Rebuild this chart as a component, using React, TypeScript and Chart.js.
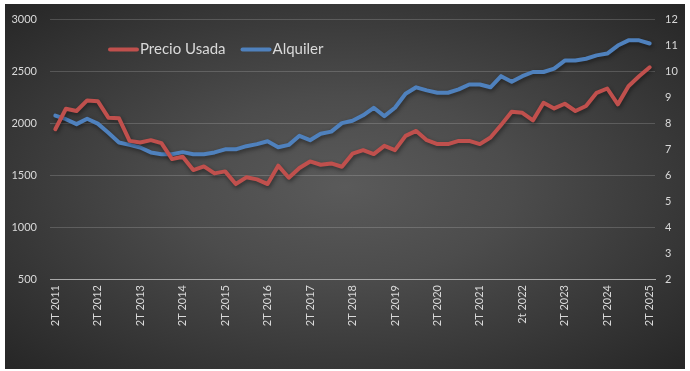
import React, { useEffect, useRef } from "react";
import { Chart, registerables } from "chart.js";

Chart.register(...registerables);

const quarters: string[] = [
  "2T 2011", "3T 2011", "4T 2011",
  "1T 2012", "2T 2012", "3T 2012", "4T 2012",
  "1T 2013", "2T 2013", "3T 2013", "4T 2013",
  "1T 2014", "2T 2014", "3T 2014", "4T 2014",
  "1T 2015", "2T 2015", "3T 2015", "4T 2015",
  "1T 2016", "2T 2016", "3T 2016", "4T 2016",
  "1T 2017", "2T 2017", "3T 2017", "4T 2017",
  "1T 2018", "2T 2018", "3T 2018", "4T 2018",
  "1T 2019", "2T 2019", "3T 2019", "4T 2019",
  "1T 2020", "2T 2020", "3T 2020", "4T 2020",
  "1T 2021", "2T 2021", "3T 2021", "4T 2021",
  "1T 2022", "2t 2022", "3T 2022", "4T 2022",
  "1T 2023", "2T 2023", "3T 2023", "4T 2023",
  "1T 2024", "2T 2024", "3T 2024", "4T 2024",
  "1T 2025", "2T 2025",
];

const precioUsada: number[] = [
  1943, 2141, 2119, 2221, 2214, 2055, 2049, 1831, 1815, 1838,
  1809, 1656, 1678, 1550, 1585, 1518, 1537, 1415, 1480, 1460,
  1415, 1592, 1476, 1570, 1633, 1601, 1614, 1582, 1708, 1742,
  1704, 1783, 1742, 1879, 1927, 1838, 1800, 1800, 1831, 1831,
  1800, 1863, 1985, 2112, 2102, 2029, 2198, 2144, 2189, 2119,
  2167, 2294, 2336, 2183, 2358, 2454, 2540,
];

const alquiler: number[] = [
  8.3, 8.16, 7.97, 8.18, 7.99, 7.64, 7.26, 7.17, 7.07, 6.88,
  6.81, 6.81, 6.89, 6.81, 6.81, 6.88, 7.0, 7.0, 7.12, 7.2,
  7.31, 7.08, 7.17, 7.52, 7.35, 7.6, 7.68, 8.01, 8.1, 8.31,
  8.6, 8.28, 8.6, 9.14, 9.39, 9.27, 9.18, 9.18, 9.31, 9.5,
  9.5, 9.39, 9.82, 9.6, 9.82, 9.98, 9.98, 10.11, 10.42, 10.42,
  10.49, 10.62, 10.69, 11.0, 11.2, 11.2, 11.08,
];

const seriesNames: string[] = ["Precio Usada", "Alquiler"];
const seriesColors: string[] = ["#C0504D", "#4F81BD"];

const FONT = "Lato, 'Noto Sans', sans-serif";
const TEXT = "#d9d9d9";

const shadowPlugin = {
  id: "lineShadow",
  beforeDatasetDraw(chart: any) {
    const ctx = chart.ctx;
    ctx.save();
    ctx.shadowColor = "rgba(0,0,0,0.45)";
    ctx.shadowBlur = 4;
    ctx.shadowOffsetX = 1;
    ctx.shadowOffsetY = 2;
  },
  afterDatasetDraw(chart: any) {
    chart.ctx.restore();
  },
};

const legendPlugin = {
  id: "insideLegend",
  afterDraw(chart: any) {
    const ctx = chart.ctx;
    const area = chart.chartArea;
    let x = area.left + 60;
    const y = area.top + 30;
    ctx.save();
    ctx.font = `15px ${FONT}`;
    ctx.textBaseline = "middle";
    ctx.textAlign = "left";
    chart.data.datasets.forEach((ds: any) => {
      ctx.strokeStyle = ds.borderColor;
      ctx.lineWidth = 4;
      ctx.lineCap = "round";
      ctx.beginPath();
      ctx.moveTo(x, y);
      ctx.lineTo(x + 27, y);
      ctx.stroke();
      ctx.fillStyle = TEXT;
      ctx.fillText(ds.label, x + 30, y);
      x += 30 + ctx.measureText(ds.label).width + 17;
    });
    ctx.restore();
  },
};

export default function App() {
  const ref = useRef<HTMLCanvasElement | null>(null);

  useEffect(() => {
    if (!ref.current) return;
    const chart = new Chart(ref.current, {
      type: "line",
      data: {
        labels: quarters,
        datasets: [
          {
            label: seriesNames[0],
            data: precioUsada,
            borderColor: seriesColors[0],
            backgroundColor: seriesColors[0],
            borderWidth: 4,
            pointRadius: 0,
            tension: 0,
            yAxisID: "y",
            borderJoinStyle: "round",
            borderCapStyle: "round",
          },
          {
            label: seriesNames[1],
            data: alquiler,
            borderColor: seriesColors[1],
            backgroundColor: seriesColors[1],
            borderWidth: 4,
            pointRadius: 0,
            tension: 0,
            yAxisID: "y1",
            borderJoinStyle: "round",
            borderCapStyle: "round",
          },
        ],
      },
      options: {
        animation: false,
        responsive: false,
        devicePixelRatio: 1,
        layout: { padding: { top: 18, left: 0, right: 0, bottom: 0 } },
        plugins: {
          legend: { display: false },
          tooltip: { enabled: false },
        },
        scales: {
          x: {
            type: "category",
            offset: true,
            grid: { display: false, drawTicks: false },
            border: { display: true, color: "#a8a8a8", width: 1 },
            ticks: {
              autoSkip: false,
              maxRotation: 90,
              minRotation: 90,
              padding: 6,
              color: TEXT,
              font: { family: FONT, size: 11 },
              callback: (_v: any, i: number) => (i % 4 === 0 ? quarters[i] : ""),
            },
            afterFit: (s: any) => {
              s.height = 92;
            },
          },
          y: {
            position: "left",
            min: 500,
            max: 3000,
            grid: { color: "rgba(255,255,255,0.17)", lineWidth: 1, drawTicks: false },
            border: { display: false },
            ticks: {
              stepSize: 500,
              padding: 13,
              color: TEXT,
              font: { family: FONT, size: 11 },
              callback: (v: any) => String(v),
            },
            afterFit: (s: any) => {
              s.width = 50;
            },
          },
          y1: {
            position: "right",
            min: 2,
            max: 12,
            grid: { display: false, drawTicks: false },
            border: { display: false },
            ticks: {
              stepSize: 1,
              padding: 10,
              color: TEXT,
              font: { family: FONT, size: 11 },
              callback: (v: any) => String(v),
            },
            afterFit: (s: any) => {
              s.width = 35;
            },
          },
        },
      },
      plugins: [shadowPlugin, legendPlugin],
    });
    return () => chart.destroy();
  }, []);

  return (
    <div
      style={{
        position: "absolute",
        left: 0,
        top: 0,
        width: 690,
        height: 371,
        background: "#ffffff",
        overflow: "hidden",
      }}
    >
      <div
        style={{
          position: "absolute",
          left: 5,
          top: 4,
          width: 680,
          height: 365,
          background:
            "radial-gradient(ellipse farthest-corner at 50% 50%, #5a5a5a 0%, #4c4c4c 35%, #262626 100%)",
        }}
      />
      <canvas
        ref={ref}
        width={690}
        height={371}
        style={{ position: "absolute", left: 0, top: 0, width: 690, height: 371 }}
      />
    </div>
  );
}
